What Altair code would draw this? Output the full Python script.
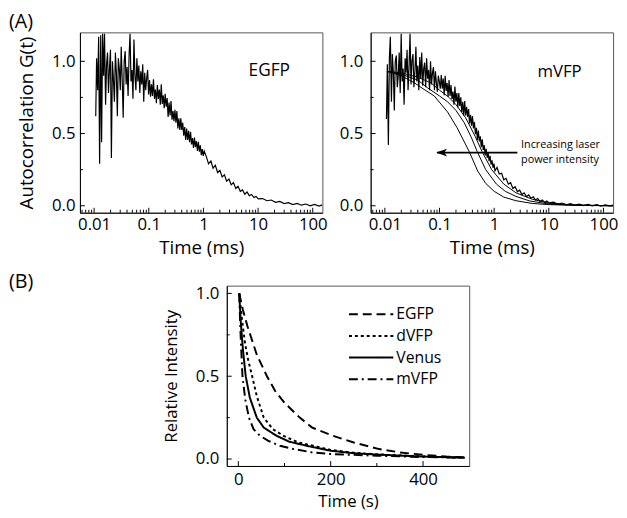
import altair as alt
import pandas as pd

FONT = "Open Sans"
W, H = 246, 183

# ---------------- Panel A data (time in ms) ----------------
T_A = [
    0.0107, 0.0111, 0.0116, 0.0121, 0.0126,
    0.0132, 0.0137, 0.0143, 0.0149, 0.0155,
    0.0162, 0.0169, 0.0176, 0.0183, 0.0191,
    0.0199, 0.0207, 0.0216, 0.0225, 0.0235,
    0.0245, 0.0255, 0.0266, 0.0277, 0.0289,
    0.0301, 0.0313, 0.0327, 0.0340, 0.0355,
    0.0370, 0.0385, 0.0401, 0.0418, 0.0436,
    0.0454, 0.0473, 0.0493, 0.0514, 0.0535,
    0.0558, 0.0581, 0.0606, 0.0631, 0.0658,
    0.0685, 0.0714, 0.0744, 0.0775, 0.0808,
    0.0842, 0.0877, 0.0914, 0.0952, 0.0992,
    0.1033, 0.1077, 0.1122, 0.1169, 0.1218,
    0.1269, 0.1322, 0.1378, 0.1436, 0.1496,
    0.1559, 0.1624, 0.1692, 0.1763, 0.1837,
    0.1914, 0.1995, 0.2078, 0.2166, 0.2257,
    0.2351, 0.2450, 0.2553, 0.2660, 0.2772,
    0.2888, 0.3009, 0.3136, 0.3267, 0.3405,
    0.3548, 0.3697, 0.3852, 0.4014, 0.4182,
    0.4358, 0.4541, 0.4732, 0.4931, 0.5138,
    0.5353, 0.5578, 0.5813, 0.6057, 0.6311,
    0.6576, 0.6852, 0.7140, 0.7440, 0.7752,
    0.8078, 0.8417, 0.8771, 0.9139, 0.9523,
    0.9923, 1.034,
    1.13, 1.24, 1.37, 1.50, 1.65,
    1.82, 2.00, 2.20, 2.42, 2.66,
    2.93, 3.22, 3.54, 3.90, 4.29,
    4.72, 5.19, 5.71, 6.28, 6.90,
    7.60, 8.40, 9.20, 10.1,
    12.1, 14.5, 17.4, 20.9, 25.0,
    30.0, 36.0, 43.0, 52.0, 62.0,
    75.0, 90.0, 108, 130, 150,
]

EGFP_G = [
    0.62, 1.02, 0.80, 1.17, 0.29,
    1.18, 0.44, 1.19, 0.90, 1.19,
    0.70, 0.98, 1.06, 0.78, 0.95,
    1.08, 0.33, 1.00, 0.88, 0.72,
    1.06, 0.92, 0.62, 1.02, 0.95,
    0.80, 1.10, 0.86, 0.61, 1.00,
    1.07, 0.84, 0.96, 0.76, 1.04,
    1.19, 0.86, 0.94, 0.74, 1.15,
    0.90, 0.80, 1.02, 0.86, 0.97,
    0.78, 0.93, 0.84, 0.98, 0.72,
    0.92, 0.80, 0.88, 0.94, 0.77,
    0.87, 0.755, 0.84, 0.76, 0.875,
    0.74, 0.805, 0.71, 0.835, 0.74,
    0.805, 0.70, 0.84, 0.705, 0.765,
    0.675, 0.775, 0.685, 0.745, 0.615,
    0.715, 0.625, 0.725, 0.595, 0.655,
    0.585, 0.665, 0.575, 0.655, 0.535,
    0.605, 0.525, 0.605, 0.525, 0.575,
    0.485, 0.545, 0.455, 0.535, 0.455,
    0.518, 0.44, 0.512, 0.425, 0.468,
    0.40, 0.472, 0.405, 0.448, 0.38,
    0.442, 0.375, 0.418, 0.35, 0.392,
    0.345, 0.378,
    0.34, 0.29, 0.31, 0.26, 0.28,
    0.23, 0.245, 0.20, 0.215, 0.17,
    0.185, 0.145, 0.16, 0.12, 0.135,
    0.10, 0.11, 0.08, 0.095, 0.07,
    0.078, 0.057, 0.065, 0.048,
    0.05, 0.035, 0.04, 0.024, 0.03,
    0.015, 0.022, 0.008, 0.016, 0.004,
    0.012, 0.0, 0.01, -0.002, 0.006,
]

MVFP_G = [
    0.60, 0.98, 0.42, 1.02, 1.17,
    0.72, 1.05, 0.92, 0.66, 1.00,
    1.04, 0.82, 0.90, 1.06, 0.78,
    1.19, 0.86, 0.95, 0.70, 1.02,
    0.92, 1.08, 0.80, 0.96, 1.19,
    0.84, 1.00, 1.05, 0.82, 0.93,
    1.10, 0.86, 0.97, 0.80, 1.03,
    0.88, 1.06, 0.83, 0.95, 0.99,
    0.82, 1.02, 0.88, 0.94, 0.80,
    1.00, 0.84, 0.92, 0.96, 0.80,
    0.93, 0.85, 0.79, 0.90, 0.86,
    0.81, 0.905, 0.81, 0.88, 0.765,
    0.90, 0.795, 0.85, 0.755, 0.87,
    0.76, 0.835, 0.74, 0.79, 0.70,
    0.825, 0.72, 0.78, 0.68, 0.78,
    0.69, 0.75, 0.65, 0.72, 0.625,
    0.725, 0.625, 0.685, 0.615, 0.67,
    0.57, 0.63, 0.555, 0.62, 0.535,
    0.58, 0.495, 0.54, 0.455, 0.52,
    0.445, 0.48, 0.405, 0.46, 0.385,
    0.42, 0.348, 0.395, 0.332, 0.37,
    0.308, 0.346, 0.285, 0.314, 0.263,
    0.292, 0.242,
    0.265, 0.22, 0.225, 0.18, 0.19,
    0.15, 0.16, 0.12, 0.132, 0.098,
    0.108, 0.078, 0.09, 0.063, 0.075,
    0.052, 0.062, 0.04, 0.05, 0.031,
    0.04, 0.024, 0.033, 0.02,
    0.025, 0.012, 0.019, 0.007, 0.015,
    0.004, 0.011, 0.001, 0.009, 0.0,
    0.008, -0.002, 0.006, -0.001, 0.004,
]

# smooth mVFP curves at increasing laser power
FIT1_T = [0.011, 0.02, 0.035, 0.05, 0.08, 0.14, 0.21, 0.35, 0.5, 0.7, 1.0, 1.5, 2.5, 5, 10, 30, 150]
FIT1_G = [0.93, 0.90, 0.85, 0.81, 0.76, 0.65, 0.54, 0.375, 0.24, 0.155, 0.10, 0.06, 0.035, 0.016, 0.008, 0.003, 0.0]
FIT2_T = [0.011, 0.02, 0.04, 0.061, 0.1, 0.14, 0.2, 0.283, 0.38, 0.49, 0.7, 1.1, 1.6, 2.5, 4.5, 10, 30, 150]
FIT2_G = [0.93, 0.91, 0.87, 0.815, 0.76, 0.72, 0.66, 0.575, 0.475, 0.375, 0.25, 0.15, 0.10, 0.065, 0.033, 0.012, 0.004, 0.0]
FIT3_T = [0.011, 0.02, 0.04, 0.07, 0.1, 0.15, 0.2, 0.3, 0.45, 0.6, 0.9, 1.5, 2.5, 3.4, 5, 10, 30, 150]
FIT3_G = [0.93, 0.92, 0.89, 0.85, 0.80, 0.75, 0.70, 0.61, 0.48, 0.375, 0.25, 0.15, 0.09, 0.07, 0.045, 0.018, 0.005, 0.0]

A_X_MAJOR = [0.01, 0.1, 1, 10, 100]
A_X_MINOR = [m * 10.0 ** e for e in range(-3, 3) for m in range(2, 10) if 0.0055 < m * 10.0 ** e < 150]
A_Y_MAJOR = [0.0, 0.5, 1.0]
A_Y_MINOR = [0.25, 0.75]

# ---------------- Panel B data (time in s) ----------------
B_NAMES = ["EGFP", "dVFP", "Venus", "mVFP"]
EGFP_BT = [2, 10, 20, 40, 62, 80, 100, 133, 160, 205, 250, 305, 350, 400, 450, 490]
EGFP_BI = [1.0, 0.90, 0.80, 0.63, 0.50, 0.41, 0.34, 0.25, 0.19, 0.14, 0.10, 0.06, 0.04, 0.025, 0.015, 0.01]
DVFP_BT = [2, 8, 15, 22, 30, 40, 55, 75, 98, 130, 162, 200, 250, 300, 400, 490]
DVFP_BI = [1.0, 0.84, 0.69, 0.59, 0.50, 0.38, 0.25, 0.18, 0.14, 0.10, 0.08, 0.055, 0.038, 0.028, 0.015, 0.008]
VENUS_BT = [2, 5, 10, 16, 25, 40, 55, 83, 110, 148, 200, 250, 300, 400, 490]
VENUS_BI = [1.0, 0.84, 0.66, 0.50, 0.37, 0.25, 0.19, 0.14, 0.105, 0.08, 0.05, 0.035, 0.027, 0.015, 0.008]
MVFP_BT = [2, 4, 6, 9, 15, 23, 33, 47, 65, 90, 120, 160, 200, 300, 400, 490]
MVFP_BI = [1.0, 0.82, 0.68, 0.50, 0.36, 0.25, 0.18, 0.14, 0.11, 0.08, 0.06, 0.04, 0.03, 0.02, 0.012, 0.008]

B_X_MAJOR = [0, 200, 400]
B_X_MINOR = [100, 300]
B_Y_MAJOR = [0.0, 0.5, 1.0]
B_Y_MINOR = [0.25, 0.75]

DASHES = [[9, 5], [3, 3], [1, 0], [9, 4, 2, 4]]

# ---------------- helpers ----------------
def inner_ticks(xenc, yenc, xmaj, xmin, ymaj, ymin):
    layers = []
    for vals, ln in ((xmaj, 5), (xmin, 3)):
        layers.append(
            alt.Chart(pd.DataFrame({"t": vals})).mark_rule(color="black", strokeWidth=1)
            .encode(x=xenc, y=alt.value(H), y2=alt.value(H - ln))
        )
    for vals, ln in ((ymaj, 5), (ymin, 3)):
        layers.append(
            alt.Chart(pd.DataFrame({"g": vals})).mark_rule(color="black", strokeWidth=1)
            .encode(y=yenc, x=alt.value(0), x2=alt.value(ln))
        )
    return layers


x_scale_a = alt.Scale(type="log", domain=[0.0055, 150], nice=False)
y_scale_a = alt.Scale(domain=[-0.048, 1.2], nice=False, zero=False)

XA = alt.X("t:Q", scale=x_scale_a,
           axis=alt.Axis(values=A_X_MAJOR, format="~g", title="Time (ms)",
                         labelFontSize=17, titleFontSize=19, labelPadding=4, titlePadding=6))
YA1 = alt.Y("g:Q", scale=y_scale_a,
            axis=alt.Axis(values=A_Y_MAJOR, format=".1f", title="Autocorrelation G(t)",
                          labelFontSize=17, titleFontSize=19, labelPadding=5, titlePadding=15))
YA2 = alt.Y("g:Q", scale=y_scale_a,
            axis=alt.Axis(values=A_Y_MAJOR, format=".1f", title=None,
                          labelFontSize=17, labelPadding=8))

# ---------------- Panel A1: EGFP ----------------
df_egfp = pd.DataFrame({"t": T_A, "g": EGFP_G})
a1_line = alt.Chart(df_egfp).mark_line(color="black", strokeWidth=1.2, clip=True).encode(x=XA, y=YA1)
a1_name = alt.Chart(pd.DataFrame({"t": [16], "g": [0.93], "s": ["EGFP"]})).mark_text(
    fontSize=17.5, align="center", baseline="middle").encode(x=XA, y=YA1, text="s:N")
a_tag = alt.Chart(pd.DataFrame({"s": ["(A)"]})).mark_text(
    fontSize=20, align="left", baseline="top").encode(x=alt.value(-72), y=alt.value(-20), text="s:N")
a1 = alt.layer(a1_line, *inner_ticks(XA, YA1, A_X_MAJOR, A_X_MINOR, A_Y_MAJOR, A_Y_MINOR),
               a1_name, a_tag).properties(width=W, height=H)

# ---------------- Panel A2: mVFP ----------------
fits = pd.concat([
    pd.DataFrame({"t": FIT1_T, "g": FIT1_G, "c": "p1"}),
    pd.DataFrame({"t": FIT2_T, "g": FIT2_G, "c": "p2"}),
    pd.DataFrame({"t": FIT3_T, "g": FIT3_G, "c": "p3"}),
])
df_mvfp = pd.DataFrame({"t": T_A, "g": MVFP_G})
a2_fits = alt.Chart(fits).mark_line(color="black", strokeWidth=1, clip=True).encode(
    x=XA, y=YA2, detail="c:N")
a2_line = alt.Chart(df_mvfp).mark_line(color="black", strokeWidth=1.2, clip=True).encode(x=XA, y=YA2)
a2_name = alt.Chart(pd.DataFrame({"t": [15.7], "g": [0.926], "s": ["mVFP"]})).mark_text(
    fontSize=17, align="center", baseline="middle").encode(x=XA, y=YA2, text="s:N")
arrow = alt.Chart(pd.DataFrame({"t": [0.09], "t2": [2.66], "g": [0.368]})).mark_rule(
    color="black", strokeWidth=1.6).encode(x=XA, x2="t2:Q", y=YA2)
arrow_head = alt.Chart(pd.DataFrame({"t": [0.087], "g": [0.368]})).mark_point(
    shape="M0,0L2,-0.7L1.5,0L2,0.7Z", size=121, filled=True, color="black",
    opacity=1, strokeWidth=0).encode(x=XA, y=YA2)
note = alt.Chart(pd.DataFrame({"t": [3.1, 3.1], "g": [0.42, 0.317],
                               "s": ["Increasing laser", "power intensity"]})).mark_text(
    fontSize=11, align="left", baseline="middle").encode(x=XA, y=YA2, text="s:N")
a2 = alt.layer(a2_fits, a2_line, *inner_ticks(XA, YA2, A_X_MAJOR, A_X_MINOR, A_Y_MAJOR, A_Y_MINOR),
               a2_name, arrow, arrow_head, note).properties(width=W, height=H)

# ---------------- Panel B ----------------
XB = alt.X("t:Q", scale=alt.Scale(domain=[-25, 500], nice=False, zero=False),
           axis=alt.Axis(values=B_X_MAJOR, format="d", title="Time (s)",
                         labelFontSize=17, titleFontSize=17, labelPadding=6, titlePadding=6))
YB = alt.Y("g:Q", scale=alt.Scale(domain=[-0.042, 1.047], nice=False, zero=False),
           axis=alt.Axis(values=B_Y_MAJOR, format=".1f", title="Relative Intensity",
                         labelFontSize=17, titleFontSize=17, labelPadding=8, titlePadding=15))

df_b = pd.concat([
    pd.DataFrame({"t": EGFP_BT, "g": EGFP_BI, "name": "EGFP"}),
    pd.DataFrame({"t": DVFP_BT, "g": DVFP_BI, "name": "dVFP"}),
    pd.DataFrame({"t": VENUS_BT, "g": VENUS_BI, "name": "Venus"}),
    pd.DataFrame({"t": MVFP_BT, "g": MVFP_BI, "name": "mVFP"}),
])
b_lines = alt.Chart(df_b).mark_line(color="black", strokeWidth=2, clip=True).encode(
    x=XB, y=YB, detail="name:N",
    strokeDash=alt.StrokeDash("name:N", scale=alt.Scale(domain=B_NAMES, range=DASHES), legend=None))

legend_layers = []
row_y = [29, 51, 73, 95]
for i, name in enumerate(B_NAMES):
    d = pd.DataFrame({"name": [name]})
    legend_layers.append(
        alt.Chart(d).mark_rule(color="black", strokeWidth=2).encode(
            x=alt.value(124), x2=alt.value(169), y=alt.value(row_y[i]),
            strokeDash=alt.value(DASHES[i])))
    legend_layers.append(
        alt.Chart(d).mark_text(fontSize=16, align="left", baseline="middle").encode(
            x=alt.value(172), y=alt.value(row_y[i]), text="name:N"))

b = alt.layer(b_lines, *inner_ticks(XB, YB, B_X_MAJOR, B_X_MINOR, B_Y_MAJOR, B_Y_MINOR),
              *legend_layers).properties(width=W, height=H)

spacer = alt.Chart(pd.DataFrame({"s": ["(B)"]}), view=alt.ViewBackground(stroke="transparent")).mark_text(
    fontSize=20, align="left", baseline="middle").encode(
    x=alt.value(-72), y=alt.value(-4), text="s:N").properties(width=100, height=H)

top = alt.hconcat(a1, a2, spacing=49, bounds="flush")
bottom = alt.hconcat(spacer, b, spacing=49, bounds="flush")

chart = (
    alt.vconcat(top, bottom, spacing=13)
    .properties(padding=0)
    .configure_view(stroke="#555", strokeWidth=1)
    .configure_axis(labelFont=FONT, titleFont=FONT, titleFontWeight="normal", grid=False,
                    ticks=False, domainColor="black", domainWidth=1, labelColor="black",
                    titleColor="black", labelFlush=False)
    .configure_text(font=FONT, color="black")
)

chart.save("out.html", embed_options={"renderer": "svg", "actions": False})
